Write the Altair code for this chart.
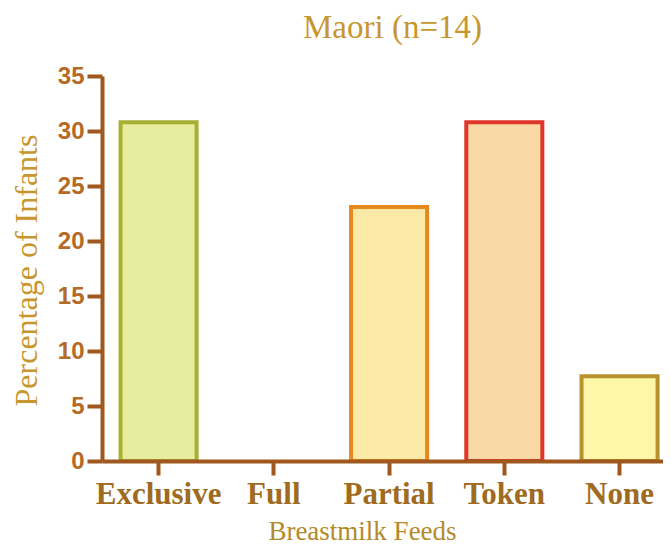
import altair as alt
import pandas as pd

categories = ["Exclusive", "Full", "Partial", "Token", "None"]
values = [30.8, 0.0, 23.1, 30.8, 7.7]
fill_colors = ["#E8EC9E", "transparent", "#FBE9A8", "#F9DAA6", "#FFF7A8"]
stroke_colors = ["#A8B032", "transparent", "#E8891C", "#E0352A", "#B8922E"]
y_ticks = [0, 5, 10, 15, 20, 25, 30, 35]

df = pd.DataFrame({"feed": categories, "pct": values})

axis_color = "#A0581E"

chart = (
    alt.Chart(df)
    .mark_bar(strokeWidth=4, strokeJoin="miter")
    .encode(
        x=alt.X(
            "feed:N",
            sort=categories,
            scale=alt.Scale(paddingInner=0.34, paddingOuter=0.104, align=0.774),
            axis=alt.Axis(
                title="Breastmilk Feeds",
                titleFont="Liberation Serif",
                titleFontSize=27,
                titleFontWeight="normal",
                titleColor="#B38A2A",
                titleBaseline="alphabetic",
                titleX=260,
                titleY=78,
                labelFont="Liberation Serif",
                labelFontSize=31,
                labelFontWeight="bold",
                labelColor="#9E6B20",
                labelAngle=0,
                labelPadding=4,
                domainColor=axis_color,
                domainWidth=4,
                tickColor=axis_color,
                tickWidth=4,
                tickSize=14,
                grid=False,
                zindex=1,
            ),
        ),
        y=alt.Y(
            "pct:Q",
            scale=alt.Scale(domain=[0, 35], nice=False),
            axis=alt.Axis(
                title="Percentage of Infants",
                titleFont="Liberation Serif",
                titleFontSize=32,
                titleFontWeight="normal",
                titleColor="#C8962E",
                titleBaseline="alphabetic",
                titleAngle=270,
                titleX=-66,
                titleY=194,
                values=y_ticks,
                labelFont="Liberation Sans",
                labelFontSize=24,
                labelFontWeight="bold",
                labelColor="#B56A25",
                labelPadding=3,
                domainColor=axis_color,
                domainWidth=4,
                tickColor=axis_color,
                tickWidth=4,
                tickSize=15,
                grid=False,
                zindex=1,
            ),
        ),
        fill=alt.Fill("feed:N", scale=alt.Scale(domain=categories, range=fill_colors), legend=None),
        stroke=alt.Stroke("feed:N", scale=alt.Scale(domain=categories, range=stroke_colors), legend=None),
    )
    .properties(
        width=561,
        height=385,
        autosize=alt.AutoSizeParams(type="none"),
        padding={"left": 94, "top": 68, "right": 0, "bottom": 85},
        title=alt.TitleParams(
            "Maori (n=14)",
            font="Liberation Serif",
            fontSize=33,
            fontWeight="normal",
            color="#C8962E",
            anchor="middle",
            dx=10,
            baseline="alphabetic",
            offset=-7,
        ),
    )
    .configure_view(stroke=None)
)

chart.save("out.html", embed_options={"renderer": "svg", "actions": False})
